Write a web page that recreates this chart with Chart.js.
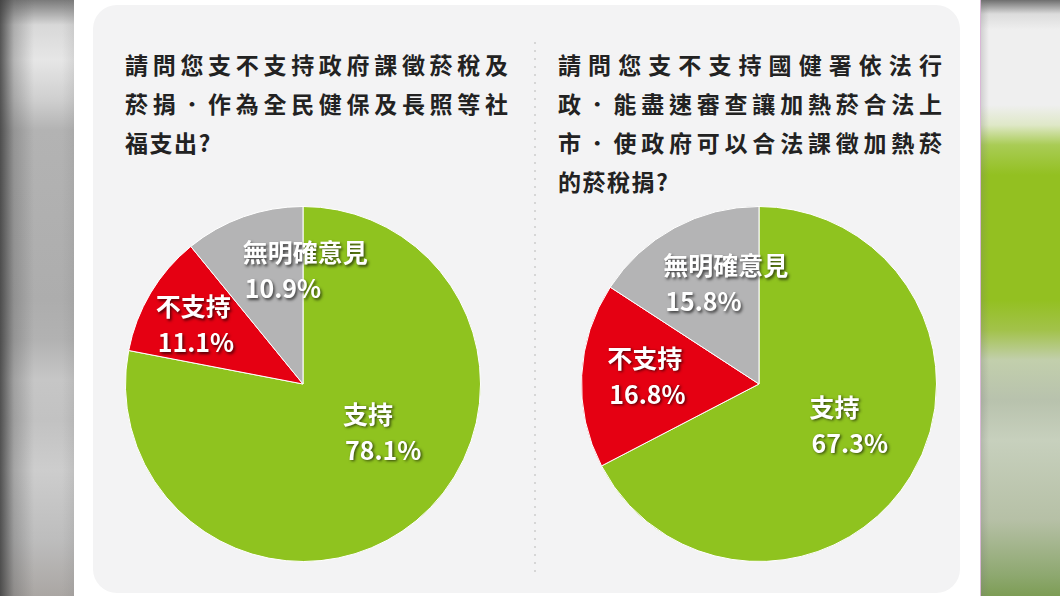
<!DOCTYPE html>
<html lang="zh-Hant-TW">
<head>
<meta charset="utf-8">
<script src="https://cdn.jsdelivr.net/npm/chart.js@4"></script>
<style>
  html, body { margin: 0; padding: 0; }
  body {
    width: 1060px; height: 596px; position: relative; overflow: hidden;
    background: #fff;
    font-family: "Noto Sans CJK TC", "Noto Sans", sans-serif;
  }
  .strip-left {
    position: absolute; left: 0; top: 0; width: 74px; height: 596px;
    background:
      linear-gradient(to right, rgba(60,60,60,0.85) 0px, rgba(90,90,90,0.35) 14px, rgba(0,0,0,0) 34px, rgba(0,0,0,0) 62px, rgba(120,120,120,0.15) 74px),
      linear-gradient(to bottom, #7a7a7a 0px, #d8d8d8 25px, #e6e6e6 60px, #cfcfcf 100px, #b3b3b3 130px, #adadad 300px, #b2b2b2 340px, #c6c6c6 380px, #c2c2c2 420px, #cdcdcd 470px, #bdbdbd 540px, #aaa6a3 596px);
  }
  .strip-right {
    position: absolute; left: 980px; top: 0; width: 80px; height: 596px;
    border-left: 1px solid #d9b8d6;
    background:
      linear-gradient(to right, rgba(120,120,120,0.25) 0px, rgba(0,0,0,0) 8px),
      linear-gradient(to bottom, #6e6e6e 0px, #dcdcdc 14px, #efefef 30px, #efefef 105px, #dfe8c8 125px, #a9cc55 145px, #93c021 175px, #93c021 300px, #a2c24a 330px, #c2cfac 360px, #b8c2ad 400px, #c7d0bd 440px, #b6c0a6 520px, #8ea870 575px, #7d9d55 596px);
  }
  .card {
    position: absolute; left: 93px; top: 5px; width: 867px; height: 588px;
    background: #f3f3f4; border-radius: 24px;
  }
  .divider {
    position: absolute; left: 534px; top: 42px; width: 2px; height: 536px;
    background: repeating-linear-gradient(to bottom, #d6d6d6 0px, #d6d6d6 2px, rgba(0,0,0,0) 2px, rgba(0,0,0,0) 8px);
  }
  .title {
    position: absolute; color: #222; font-size: 23px; font-weight: 700;
  }
  .title .line {
    height: 39px; line-height: 39px; display: flex; justify-content: space-between;
  }
  .title .line.last { justify-content: flex-start; letter-spacing: 1.5px; }
  .pie { position: absolute; width: 356px; height: 356px; }
</style>
</head>
<body>
<div class="strip-left"></div>
<div class="strip-right"></div>
<div class="card"></div>
<div class="divider"></div>

<div class="title" id="title1" style="left:125px; top:45px; width:383px;"></div>
<div class="title" id="title2" style="left:558px; top:45px; width:384px;"></div>

<div class="pie" style="left:125px; top:206px;"><canvas id="pie1"></canvas></div>
<div class="pie" style="left:581px; top:206px;"><canvas id="pie2"></canvas></div>

<script>
// Data
const categories = ['支持', '不支持', '無明確意見'];
const values1 = [78.1, 11.1, 10.9];
const values2 = [67.3, 16.8, 15.8];
const title1Lines = ['請問您支不支持政府課徵菸稅及', '菸捐．作為全民健保及長照等社', '福支出?'];
const title2Lines = ['請問您支不支持國健署依法行', '政．能盡速審查讓加熱菸合法上', '市．使政府可以合法課徵加熱菸', '的菸稅捐?'];

const sliceColors = ['#8fc31f', '#e50012', '#b4b4b5'];

// label placement, relative to pie centre in units of the radius (x, y of first line)
const labelPos1 = [[0.225, 0.17], [-0.83, -0.435], [-0.34, -0.74]];
const labelPos2 = [[0.285, 0.13], [-0.855, -0.145], [-0.54, -0.665]];

function buildTitle(el, lines) {
    lines.forEach((text, i) => {
        const line = document.createElement('div');
        line.className = 'line' + (i === lines.length - 1 ? ' last' : '');
        if (i === lines.length - 1) {
            line.textContent = text;
        } else {
            Array.from(text).forEach(ch => {
                const s = document.createElement('span');
                s.textContent = ch;
                line.appendChild(s);
            });
        }
        el.appendChild(line);
    });
}
buildTitle(document.getElementById('title1'), title1Lines);
buildTitle(document.getElementById('title2'), title2Lines);

const sliceLabels = {
    id: 'sliceLabels',
    afterDatasetsDraw(chart, args, opts) {
        const ctx = chart.ctx;
        const meta = chart.getDatasetMeta(0);
        const data = chart.data.datasets[0].data;
        ctx.save();
        ctx.font = 'bold 25px "Noto Sans CJK TC", sans-serif';
        ctx.fillStyle = '#fff';
        ctx.textAlign = 'left';
        ctx.textBaseline = 'middle';
        ctx.shadowColor = 'rgba(0,0,0,0.65)';
        ctx.shadowBlur = 3;
        ctx.shadowOffsetX = 1.5;
        ctx.shadowOffsetY = 1.5;
        meta.data.forEach((arc, i) => {
            const r = arc.outerRadius;
            const x = arc.x + opts.pos[i][0] * r;
            const y = arc.y + opts.pos[i][1] * r;
            ctx.fillText(chart.data.labels[i], x, y);
            ctx.fillText(data[i].toFixed(1) + '%', x + 2, y + 36);
        });
        ctx.restore();
    }
};

function makePie(id, values, pos) {
    new Chart(document.getElementById(id), {
        type: 'pie',
        data: {
            labels: categories,
            datasets: [{
                data: values,
                backgroundColor: sliceColors,
                borderColor: '#ffffff',
                borderWidth: 1
            }]
        },
        options: {
            responsive: true,
            maintainAspectRatio: false,
            animation: false,
            layout: { padding: 0 },
            plugins: {
                legend: { display: false },
                tooltip: { enabled: false },
                sliceLabels: { pos: pos }
            }
        },
        plugins: [sliceLabels]
    });
}

makePie('pie1', values1, labelPos1);
makePie('pie2', values2, labelPos2);
</script>
</body>
</html>
